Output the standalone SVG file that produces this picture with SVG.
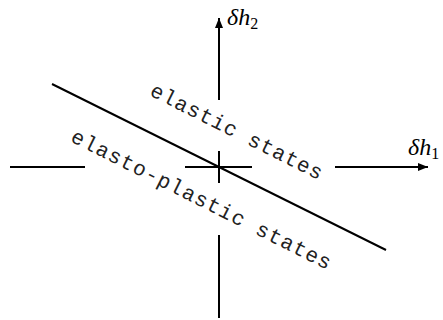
<svg xmlns="http://www.w3.org/2000/svg" width="443" height="320" viewBox="0 0 443 320">
<style>
.ax{stroke:#000;stroke-width:2;fill:none}
.lbl{font-family:"Liberation Mono","Courier New",monospace;font-size:21px;fill:#222}
.math{font-family:"Liberation Serif","Times New Roman",serif;font-style:italic;font-size:24px;fill:#000}
.sub{font-family:"Liberation Serif","Times New Roman",serif;font-style:normal;font-size:16px;fill:#000}
</style>
<defs>
<marker id="arr" viewBox="0 0 10 8" refX="10" refY="4" markerWidth="10" markerHeight="8" markerUnits="userSpaceOnUse" orient="auto">
<path d="M0,0 L10,4 L0,8 Z" fill="#000"/>
</marker>
</defs>
<rect width="443" height="320" fill="#fff"/>
<g id="connectors">
<line class="ax" x1="219" y1="100" x2="219" y2="18" marker-end="url(#arr)"/>
<line class="ax" x1="219" y1="151" x2="219" y2="183"/>
<line class="ax" x1="219" y1="235" x2="219" y2="318"/>
<line class="ax" x1="10" y1="167" x2="85" y2="167"/>
<line class="ax" x1="185" y1="167" x2="252" y2="167"/>
<line class="ax" x1="335" y1="167" x2="428" y2="167" marker-end="url(#arr)"/>
<line class="ax" x1="52" y1="84" x2="386" y2="250"/>
</g>
<g id="axis-h2">
<text class="math" x="227" y="25">δh<tspan class="sub" dy="4">2</tspan></text>
</g>
<g id="axis-h1">
<text class="math" x="408" y="155">δh<tspan class="sub" dy="4">1</tspan></text>
</g>
<g id="elastic">
<text class="lbl" transform="translate(148.7,95) rotate(26.6)" textLength="190" lengthAdjust="spacing">elastic states</text>
</g>
<g id="elasto-plastic">
<text class="lbl" transform="translate(69.6,141) rotate(26.6)" textLength="288" lengthAdjust="spacing">elasto-plastic states</text>
</g>
</svg>
